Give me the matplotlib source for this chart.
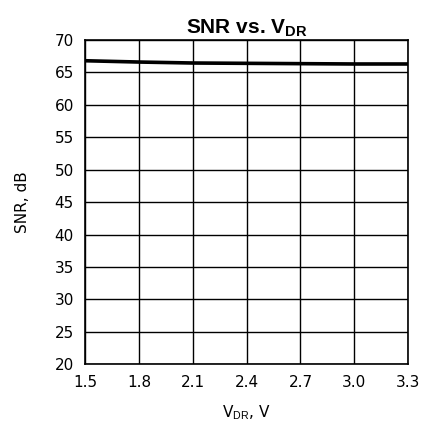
import matplotlib
matplotlib.use("Agg")
import matplotlib.pyplot as plt

plt.rcParams["mathtext.fontset"] = "custom"
plt.rcParams["mathtext.rm"] = "Liberation Sans"
plt.rcParams["mathtext.bf"] = "Liberation Sans:bold"

vdr = [1.5, 1.8, 2.1, 2.4, 2.7, 3.0, 3.3]
snr = [66.8, 66.6, 66.45, 66.4, 66.35, 66.3, 66.3]
xticks = [1.5, 1.8, 2.1, 2.4, 2.7, 3.0, 3.3]
xticklabels = ["1.5", "1.8", "2.1", "2.4", "2.7", "3.0", "3.3"]
yticks = [20, 25, 30, 35, 40, 45, 50, 55, 60, 65, 70]

fig = plt.figure(figsize=(4.23, 4.30), dpi=100)
ax = fig.add_axes([0.201, 0.153, 0.764, 0.754])
ax.plot(vdr, snr, color="black", lw=2.6)
ax.set_xlim(1.5, 3.3)
ax.set_ylim(20, 70)
ax.set_xticks(xticks)
ax.set_xticklabels(xticklabels)
ax.set_yticks(yticks)
ax.grid(True, color="black", lw=1.0)
for s in ax.spines.values():
    s.set_linewidth(1.2)
ax.tick_params(length=0, labelsize=11, pad=8)
ax.set_title(r"SNR vs. V$_{\mathbf{DR}}$", fontsize=15, fontweight="bold",
             family="Liberation Sans", pad=5)
ax.set_xlabel(r"V$_{\mathrm{DR}}$, V", fontsize=11, labelpad=9)
ax.set_ylabel("SNR, dB", fontsize=11, labelpad=18)
fig.savefig("out.png", dpi=100)
